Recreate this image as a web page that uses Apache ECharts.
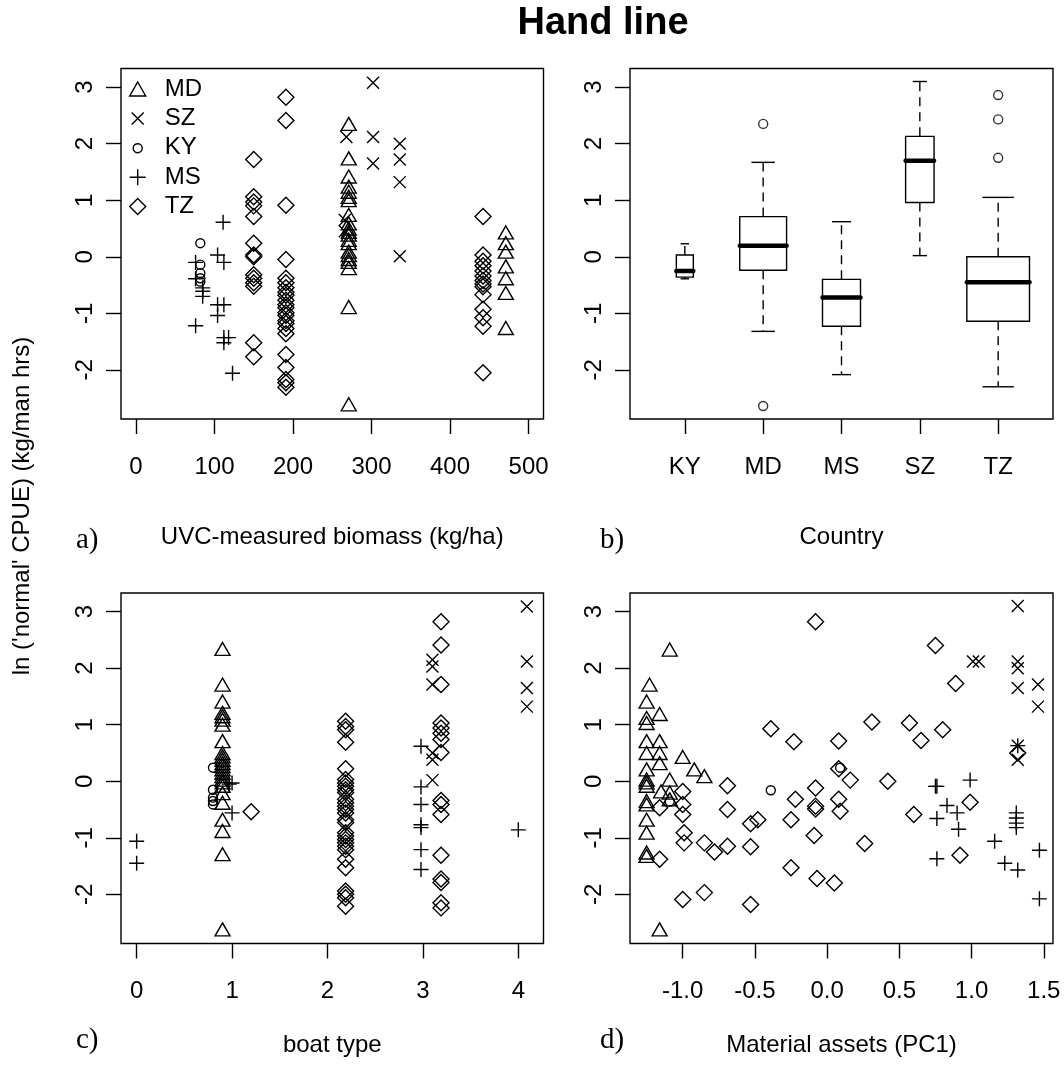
<!DOCTYPE html>
<html><head><meta charset="utf-8">
<script src="https://cdn.jsdelivr.net/npm/echarts@6/dist/echarts.min.js"></script>
<style>html,body{margin:0;padding:0;background:#fff}#c{width:1064px;height:1066px}</style>
</head><body><div id="c"></div>
<script>
// ---------- data ----------
const yTicks = [-2, -1, 0, 1, 2, 3];
const xTicksA = [0, 100, 200, 300, 400, 500];
const xTicksC = [0, 1, 2, 3, 4];
const xTicksD = [-1.0, -0.5, 0.0, 0.5, 1.0, 1.5];
const countries = ['MD', 'SZ', 'KY', 'MS', 'TZ'];

// panel a: [biomass, ln CPUE]
const MD_a = [[271,2.35],[271,1.74],[271,1.42],[271,1.24],[271,1.15],[271,1.06],[271,1.0],[271,0.74],[271,0.59],[271,0.50],[271,0.44],[271,0.39],[271,0.30],[271,0.24],[271,0.09],[271,0.03],[271,-0.04],[271,-0.09],[271,-0.20],[271,-0.89],[271,-2.61],[471,0.43],[471,0.24],[471,0.09],[471,-0.17],[471,-0.38],[471,-0.64],[471,-1.26]];
const SZ_a = [[268,2.12],[302,3.08],[302,2.12],[302,1.65],[336,2.0],[336,1.72],[336,1.32],[336,0.01],[266,0.65],[266,0.45]];
const KY_a = [[82,0.24],[82,-0.14],[82,-0.29],[82,-0.38],[82,-0.44]];
const MS_a = [[111,0.61],[76,-0.10],[104,0.03],[112,-0.10],[76,-0.39],[85,-0.55],[85,-0.61],[85,-0.70],[104,-0.85],[112,-0.85],[104,-1.04],[76,-1.22],[112,-1.43],[118,-1.43],[112,-1.52],[123,-2.06]];
const TZ_a = [[150,1.72],[150,1.06],[150,0.97],[150,0.90],[150,0.71],[150,0.24],[150,0.03],[150,0.0],[150,-0.32],[150,-0.38],[150,-0.46],[150,-0.52],[150,-1.52],[150,-1.77],
  [191,2.82],[191,2.41],[191,0.91],[191,-0.05],[191,-0.38],[191,-0.46],[191,-0.55],[191,-0.63],[191,-0.68],[191,-0.77],[191,-0.85],[191,-0.90],[191,-0.99],[191,-1.04],[191,-1.13],[191,-1.18],[191,-1.27],[191,-1.36],[191,-1.73],[191,-1.96],[191,-2.17],[191,-2.23],[191,-2.31],
  [442,0.71],[442,0.03],[442,-0.08],[442,-0.16],[442,-0.25],[442,-0.34],[442,-0.42],[442,-0.48],[442,-0.53],[442,-0.67],[442,-0.93],[442,-1.08],[442,-1.23],[442,-2.05]];

// panel b: boxplot statistics [min, Q1, median, Q3, max]
const boxCats = ['KY', 'MD', 'MS', 'SZ', 'TZ'];
const boxStats = [[-0.39,-0.36,-0.25,0.03,0.23],[-1.32,-0.24,0.195,0.71,1.67],[-2.085,-1.23,-0.72,-0.40,0.62],[0.02,0.96,1.70,2.13,3.10],[-2.30,-1.14,-0.45,0.0,1.05]];
const boxN = [5, 38, 25, 14, 68];
const boxOutliers = [[2,2.35],[2,-2.64],[5,2.86],[5,2.43],[5,1.75]];

// panel c: [boat type, ln CPUE]
const MD_c = [[0.9,2.34],[0.9,1.71],[0.9,1.41],[0.9,1.21],[0.9,1.15],[0.9,1.09],[0.9,1.0],[0.9,0.71],[0.9,0.50],[0.9,0.44],[0.9,0.38],[0.9,0.32],[0.9,0.27],[0.9,0.21],[0.9,0.15],[0.9,0.09],[0.9,0.03],[0.9,-0.02],[0.9,-0.08],[0.9,-0.21],[0.9,-0.38],[0.9,-0.68],[0.9,-0.88],[0.9,-1.29],[0.9,-2.62]];
const SZ_c = [[3.1,2.15],[3.1,2.03],[3.1,1.71],[3.1,0.50],[3.1,0.38],[3.1,0.02],[4.09,3.09],[4.09,2.12],[4.09,1.65],[4.09,1.32]];
const KY_c = [[0.8,0.24],[0.8,-0.15],[0.8,-0.29],[0.8,-0.35],[0.8,-0.41]];
const MS_c = [[0,-1.06],[0,-1.45],[1.0,-0.03],[0.97,-0.05],[1.0,-0.56],[2.98,0.62],[2.98,-0.1],[2.98,-0.41],[2.98,-0.77],[2.98,-0.82],[2.98,-1.21],[2.98,-1.56],[4.0,-0.86]];
const TZ_c = [[1.2,-0.54],
  [2.19,1.06],[2.19,0.97],[2.19,0.91],[2.19,0.69],[2.19,0.22],[2.19,0.03],[2.19,-0.03],[2.19,-0.09],[2.19,-0.15],[2.19,-0.2],[2.19,-0.32],[2.19,-0.38],[2.19,-0.44],[2.19,-0.5],[2.19,-0.56],[2.19,-0.68],[2.19,-0.73],[2.19,-0.91],[2.19,-0.97],[2.19,-1.03],[2.19,-1.09],[2.19,-1.15],[2.19,-1.21],[2.19,-1.38],[2.19,-1.53],[2.19,-1.94],[2.19,-2.0],[2.19,-2.06],[2.19,-2.21],
  [3.19,2.82],[3.19,2.41],[3.19,1.71],[3.19,1.03],[3.19,0.94],[3.19,0.85],[3.19,0.74],[3.19,0.51],[3.19,-0.34],[3.19,-0.41],[3.19,-0.59],[3.19,-1.31],[3.19,-1.73],[3.19,-1.79],[3.19,-2.15],[3.19,-2.24]];

// panel d: [material assets PC1, ln CPUE]
const MD_d = [[-1.09,2.33],[-1.23,1.71],[-1.25,1.41],[-1.25,1.12],[-1.25,1.03],[-1.16,1.19],[-1.25,0.71],[-1.16,0.71],[-1.25,0.50],[-1.16,0.50],[-1.16,0.32],[-1.0,0.43],[-0.92,0.21],[-0.85,0.09],[-1.25,0.21],[-1.25,0.03],[-1.25,-0.02],[-1.25,-0.08],[-1.09,0.03],[-1.15,-0.18],[-1.09,-0.2],[-1.09,-0.32],[-1.25,-0.35],[-1.25,-0.41],[-1.25,-0.68],[-1.25,-0.91],[-1.25,-1.26],[-1.25,-1.32],[-1.16,-2.62]];
const SZ_d = [[1.32,3.10],[1.01,2.12],[1.05,2.12],[1.32,2.12],[1.32,2.0],[1.32,1.65],[1.46,1.71],[1.46,1.32],[1.32,0.63],[1.32,0.38]];
const KY_d = [[-0.39,-0.16],[0.09,0.24],[-1.09,-0.36]];
const MS_d = [[0.75,-0.09],[0.76,-0.09],[0.99,0.02],[0.76,-0.66],[0.83,-0.43],[0.90,-0.56],[0.91,-0.85],[1.16,-1.06],[0.76,-1.37],[1.23,-1.45],[1.32,-1.57],[1.31,-0.56],[1.31,-0.65],[1.31,-0.74],[1.31,-0.82],[1.32,0.63],[1.47,-1.22],[1.47,-2.08]];
const TZ_d = [[-1.16,-0.47],[-1.16,-1.38],[-1.0,-0.18],[-1.0,-0.41],[-1.0,-0.59],[-0.99,-0.91],[-0.99,-1.09],[-1.0,-2.09],[-0.85,-1.09],[-0.85,-1.97],[-0.78,-1.25],[-0.69,-0.08],[-0.69,-0.5],[-0.69,-1.15],[-0.53,-0.75],[-0.48,-0.68],[-0.53,-1.16],[-0.53,-2.18],[-0.39,0.93],[-0.23,0.70],[-0.22,-0.32],[-0.25,-0.68],[-0.25,-1.53],[-0.08,2.82],[-0.08,-0.12],[-0.08,-0.44],[-0.08,-0.49],[-0.09,-0.96],[-0.07,-1.72],[0.75,2.40],[0.89,1.73],[0.31,1.05],[0.57,1.03],[0.80,0.91],[0.65,0.72],[0.08,0.71],[0.08,0.22],[0.16,0.02],[0.42,0.0],[0.08,-0.32],[0.09,-0.53],[0.60,-0.59],[0.99,-0.37],[0.26,-1.10],[0.92,-1.31],[0.05,-1.80],[1.32,0.50]];

// ---------- styling ----------
const SANS = 'Liberation Sans, Arial, sans-serif';
const SERIF = 'Liberation Serif, Times New Roman, serif';
const FS = 24;
const LW = 1.4;
const symbols = {
  MD: {symbol: 'triangle', size: [15, 13]},
  SZ: {symbol: 'path://M0,0L10,10M10,0L0,10', size: 12},
  KY: {symbol: 'circle', size: 9},
  MS: {symbol: 'path://M5,0L5,10M0,5L10,5', size: 15},
  TZ: {symbol: 'diamond', size: 16}
};
const legendIcons = {
  MD: 'path://M8,1L16,15L0,15Z',
  SZ: 'path://M0,0M16,16M2,2L14,14M14,2L2,14',
  KY: 'path://M0,0M16,16M12.5,8A4.5,4.5,0,1,1,12.49,7.9Z',
  MS: 'path://M0,0M16,16M8,0L8,16M0,8L16,8',
  TZ: 'path://M8,0L16,8L8,16L0,8Z'
};
const panelData = {
  0: {MD: MD_a, SZ: SZ_a, KY: KY_a, MS: MS_a, TZ: TZ_a},
  2: {MD: MD_c, SZ: SZ_c, KY: KY_c, MS: MS_c, TZ: TZ_c},
  3: {MD: MD_d, SZ: SZ_d, KY: KY_d, MS: MS_d, TZ: TZ_d}
};

const grids = [
  {left: 121, top: 68.5, width: 422.5, height: 350.5},
  {left: 630, top: 68.5, width: 423, height: 350.5},
  {left: 121, top: 593, width: 422.5, height: 350.5},
  {left: 630, top: 593, width: 423, height: 350.5}
].map(g => Object.assign({show: true, borderColor: '#000', borderWidth: LW, backgroundColor: 'transparent', containLabel: false}, g));

function xAxisDef(gi, min, max, ticks, fmt, name, nameGap) {
  return {
    type: 'value', gridIndex: gi, min: min, max: max, position: 'bottom',
    splitLine: {show: false}, axisLine: {show: false, onZero: false},
    axisTick: {show: true, length: 15, lineStyle: {color: '#000', width: LW}, customValues: ticks},
    axisLabel: {show: true, customValues: ticks, formatter: fmt, color: '#000', fontFamily: SANS, fontSize: FS, margin: 36},
    name: name, nameLocation: 'middle', nameGap: nameGap,
    nameTextStyle: {color: '#000', fontFamily: SANS, fontSize: FS}
  };
}
function yAxisDef(gi) {
  return {
    type: 'value', gridIndex: gi, min: -2.87, max: 3.33, position: 'left',
    splitLine: {show: false}, axisLine: {show: false, onZero: false},
    axisTick: {show: true, length: 15, lineStyle: {color: '#000', width: LW}, customValues: yTicks},
    axisLabel: {show: true, customValues: yTicks, rotate: 90, color: '#000', fontFamily: SANS, fontSize: FS, margin: 24}
  };
}

const xAxes = [
  xAxisDef(0, -19, 519, xTicksA, v => String(v), 'UVC-measured biomass (kg/ha)', 106),
  xAxisDef(1, 0.3, 5.7, [1,2,3,4,5], v => boxCats[Math.round(v) - 1], 'Country', 106),
  xAxisDef(2, -0.164, 4.264, xTicksC, v => String(v), 'boat type', 90),
  xAxisDef(3, -1.365, 1.564, xTicksD, v => v.toFixed(1), 'Material assets (PC1)', 90)
];
const yAxes = [0,1,2,3].map(yAxisDef);

const series = [];
[0, 2, 3].forEach(gi => {
  countries.forEach(c => {
    series.push({
      type: 'scatter', name: c, xAxisIndex: gi, yAxisIndex: gi,
      data: panelData[gi][c], symbol: symbols[c].symbol, symbolSize: symbols[c].size,
      itemStyle: {color: 'rgba(0,0,0,0)', borderColor: '#000', borderWidth: LW, opacity: 1},
      emphasis: {disabled: true}, silent: true, z: 3
    });
  });
});

const nmax = Math.max.apply(null, boxN);
const boxData = boxStats.map((s, i) => [i + 1].concat(s, [boxN[i]]));
series.push({
  type: 'custom', xAxisIndex: 1, yAxisIndex: 1, data: boxData,
  encode: {x: 0, y: [1, 2, 3, 4, 5]}, silent: true,
  renderItem: function (params, api) {
    const x = api.value(0);
    const lo = api.value(1), q1 = api.value(2), med = api.value(3), q3 = api.value(4), hi = api.value(5), n = api.value(6);
    const bw = api.size([0.8 * Math.sqrt(n / nmax), 0])[0];
    const cx = api.coord([x, med])[0];
    const py = v => api.coord([x, v])[1];
    const stroke = {stroke: '#000', lineWidth: LW, fill: null};
    const dash = {stroke: '#000', lineWidth: LW, lineDash: [9, 6], fill: null};
    return {
      type: 'group', children: [
        {type: 'line', shape: {x1: cx, y1: py(q3), x2: cx, y2: py(hi)}, style: dash},
        {type: 'line', shape: {x1: cx, y1: py(q1), x2: cx, y2: py(lo)}, style: dash},
        {type: 'line', shape: {x1: cx - bw / 4, y1: py(hi), x2: cx + bw / 4, y2: py(hi)}, style: stroke},
        {type: 'line', shape: {x1: cx - bw / 4, y1: py(lo), x2: cx + bw / 4, y2: py(lo)}, style: stroke},
        {type: 'rect', shape: {x: cx - bw / 2, y: py(q3), width: bw, height: py(q1) - py(q3)}, style: {stroke: '#000', lineWidth: LW, fill: '#fff'}},
        {type: 'line', shape: {x1: cx - bw / 2, y1: py(med), x2: cx + bw / 2, y2: py(med)}, style: {stroke: '#000', lineWidth: 4.5, lineCap: 'round'}}
      ]
    };
  }
});
series.push({
  type: 'scatter', name: 'outliers', xAxisIndex: 1, yAxisIndex: 1, data: boxOutliers,
  symbol: 'circle', symbolSize: 9, silent: true,
  itemStyle: {color: 'rgba(0,0,0,0)', borderColor: '#000', borderWidth: LW}
});

const option = {
  animation: false,
  backgroundColor: '#fff',
  grid: grids,
  xAxis: xAxes,
  yAxis: yAxes,
  legend: {
    data: countries.map(c => ({name: c, icon: legendIcons[c]})),
    orient: 'vertical', left: 124, top: 72, itemWidth: 16, itemHeight: 16, itemGap: 5.4,
    selectedMode: false,
    itemStyle: {color: 'rgba(0,0,0,0)', borderColor: '#000', borderWidth: LW},
    textStyle: {color: '#000', fontFamily: SANS, fontSize: FS, lineHeight: 24, padding: [0, 0, 0, 14]}
  },
  graphic: [
    {type: 'text', x: 603, y: 24, style: {text: 'Hand line', font: 'bold 38px ' + SANS, fill: '#000', align: 'center', verticalAlign: 'middle'}},
    {type: 'text', x: 22, y: 506, rotation: Math.PI / 2, style: {text: "ln ('normal' CPUE) (kg/man hrs)", font: FS + 'px ' + SANS, fill: '#000', align: 'center', verticalAlign: 'middle'}},
    {type: 'text', x: 76, y: 540, style: {text: 'a)', font: '29px ' + SERIF, fill: '#000', verticalAlign: 'middle'}},
    {type: 'text', x: 600, y: 540, style: {text: 'b)', font: '29px ' + SERIF, fill: '#000', verticalAlign: 'middle'}},
    {type: 'text', x: 76, y: 1040, style: {text: 'c)', font: '29px ' + SERIF, fill: '#000', verticalAlign: 'middle'}},
    {type: 'text', x: 600, y: 1040, style: {text: 'd)', font: '29px ' + SERIF, fill: '#000', verticalAlign: 'middle'}}
  ],
  series: series
};
const chart = echarts.init(document.getElementById('c'), null, {renderer: 'canvas'});
chart.setOption(option);
</script></body></html>
